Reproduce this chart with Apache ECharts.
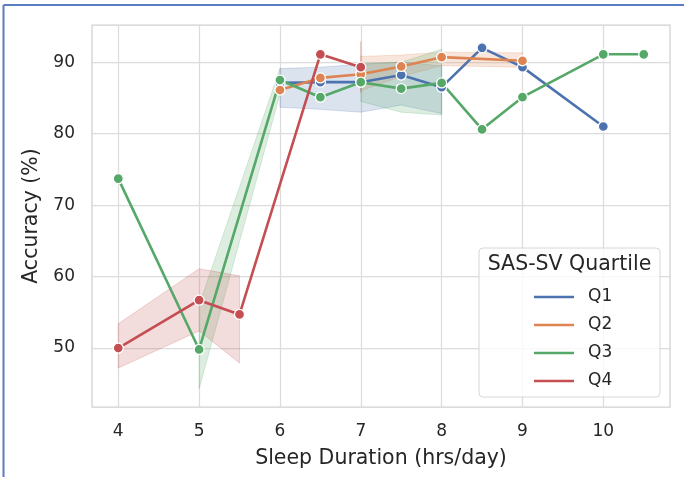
<!DOCTYPE html>
<html>
<head>
<meta charset="utf-8">
<script src="https://cdn.jsdelivr.net/npm/echarts@6/dist/echarts.min.js"></script>
<style>
html,body{margin:0;padding:0;background:#fff;}
#chart{width:684px;height:477px;}
</style>
</head>
<body>
<div id="chart"></div>
<script>
// ---- data ----
const xTicks = [4, 5, 6, 7, 8, 9, 10];
const yTicks = [50, 60, 70, 80, 90];
const seriesNames = ['Q1', 'Q2', 'Q3', 'Q4'];

const q1X = [6, 6.5, 7, 7.5, 8, 8.5, 9, 10];
const q1Y = [87.1, 87.2, 87.2, 88.2, 86.5, 92.0, 89.3, 81.0];
const q2X = [6, 6.5, 7, 7.5, 8, 9];
const q2Y = [86.1, 87.8, 88.3, 89.4, 90.7, 90.2];
const q3X = [4, 5, 6, 6.5, 7, 7.5, 8, 8.5, 9, 10, 10.5];
const q3Y = [73.7, 49.8, 87.5, 85.1, 87.2, 86.3, 87.1, 80.6, 85.1, 91.1, 91.1];
const q4X = [4, 5, 5.5, 6.5, 7];
const q4Y = [50.0, 56.7, 54.7, 91.1, 89.3];

// confidence bands (segments)
const q1BandX = [6, 6.5, 7, 7.5, 8];
const q1BandLo = [83.7, 83.4, 83.0, 84.0, 82.8];
const q1BandHi = [89.1, 89.3, 89.7, 90.0, 89.5];
const q2BandX = [7, 7.5, 8, 9];
const q2BandLo = [86.0, 88.0, 89.5, 89.3];
const q2BandHi = [90.8, 91.0, 91.4, 91.3];
const q3BandAX = [5, 6];
const q3BandALo = [44.3, 85.5];
const q3BandAHi = [56.0, 89.1];
const q3BandBX = [7, 7.5, 8];
const q3BandBLo = [84.5, 83.0, 82.6];
const q3BandBHi = [89.8, 90.0, 91.8];
const q4BandAX = [4, 5, 5.5];
const q4BandALo = [47.2, 52.4, 47.9];
const q4BandAHi = [53.4, 61.1, 60.1];
const q4BandBX = [7];
const q4BandBLo = [85.7];
const q4BandBHi = [92.9];

const colors = ['#4c72b0', '#dd8452', '#55a868', '#c44e52'];
const fontFamily = 'DejaVu Sans';
const textColor = '#262626';

function rgba(hex, a) {
  const n = parseInt(hex.slice(1), 16);
  return 'rgba(' + ((n >> 16) & 255) + ',' + ((n >> 8) & 255) + ',' + (n & 255) + ',' + a + ')';
}
function zip(xs, ys) { return xs.map((x, i) => [x, ys[i]]); }

function bandSeries(xs, lo, hi, color) {
  const data = xs.map((x, i) => [x, lo[i], hi[i]]);
  return {
    type: 'custom',
    z: 1,
    silent: true,
    data: data,
    encode: { x: 0, y: [1, 2] },
    renderItem: function (params, api) {
      if (params.dataIndex !== 0) return null;
      const pts = [];
      for (let i = 0; i < data.length; i++) pts.push(api.coord([data[i][0], data[i][2]]));
      for (let i = data.length - 1; i >= 0; i--) pts.push(api.coord([data[i][0], data[i][1]]));
      return {
        type: 'polygon',
        shape: { points: pts },
        style: { fill: rgba(color, 0.2), stroke: rgba(color, 0.22), lineWidth: 1 }
      };
    }
  };
}

function lineSeries(name, xs, ys, color) {
  return {
    name: name,
    type: 'line',
    z: 3,
    data: zip(xs, ys),
    symbol: 'circle',
    symbolSize: 10,
    showSymbol: true,
    lineStyle: { color: color, width: 2.6 },
    itemStyle: { color: color, borderColor: '#ffffff', borderWidth: 1.3 },
    emphasis: { disabled: true },
    animation: false
  };
}

const chart = echarts.init(document.getElementById('chart'), null, { renderer: 'canvas' });
chart.setOption({
  animation: false,
  backgroundColor: '#ffffff',
  grid: { left: 92, right: 14, top: 25, bottom: 70, show: true, borderColor: '#d0d0d0', borderWidth: 1.25, backgroundColor: 'transparent' },
  xAxis: {
    type: 'value', min: 3.675, max: 10.825,
    name: 'Sleep Duration (hrs/day)', nameLocation: 'middle', nameGap: 41,
    nameTextStyle: { fontFamily: fontFamily, fontSize: 20.5, color: textColor },
    axisLine: { show: false },
    axisTick: { show: false, customValues: xTicks },
    axisLabel: { customValues: xTicks, fontFamily: fontFamily, fontSize: 17, color: textColor, margin: 16 },
    splitLine: { show: true, lineStyle: { color: '#dcdcdc', width: 1.25 } }
  },
  yAxis: {
    type: 'value', min: 41.75, max: 95.2,
    name: 'Accuracy (%)', nameLocation: 'middle', nameGap: 46, nameRotate: 90,
    nameTextStyle: { fontFamily: fontFamily, fontSize: 20.5, color: textColor },
    axisLine: { show: false },
    axisTick: { show: false, customValues: yTicks },
    axisLabel: { customValues: yTicks, fontFamily: fontFamily, fontSize: 17, color: textColor, margin: 17 },
    splitLine: { show: true, lineStyle: { color: '#dcdcdc', width: 1.25 } }
  },
  legend: {
    orient: 'vertical', left: 529, top: 282, z: 60,
    data: seriesNames.map((n, i) => ({ name: n, itemStyle: { color: colors[i], borderWidth: 0 } })),
    icon: 'rect', itemWidth: 40, itemHeight: 2.5, itemGap: 8,
    itemStyle: { borderWidth: 0 },
    selectedMode: false,
    textStyle: { fontFamily: fontFamily, fontSize: 17, color: textColor, lineHeight: 20, padding: [0, 0, 0, 9] }
  },
  graphic: [
    { type: 'rect', z: 50, silent: true, shape: { x: 479, y: 248, width: 181, height: 149, r: 4 },
      style: { fill: 'rgba(255,255,255,0.8)', stroke: '#d6d6d6', lineWidth: 1 } },
    { type: 'text', z: 55, silent: true, x: 569.5, y: 265,
      style: { text: 'SAS-SV Quartile', fontFamily: fontFamily, fontSize: 20.5, fill: textColor, align: 'center', verticalAlign: 'middle' } },
    { type: 'line', z: 70, silent: true, shape: { x1: 3.5, y1: 5, x2: 684, y2: 5 }, style: { stroke: '#5a7cc0', lineWidth: 2 } },
    { type: 'line', z: 70, silent: true, shape: { x1: 3.5, y1: 5, x2: 3.5, y2: 477 }, style: { stroke: '#5a7cc0', lineWidth: 2 } }
  ],
  series: [
    bandSeries(q1BandX, q1BandLo, q1BandHi, colors[0]),
    bandSeries(q2BandX, q2BandLo, q2BandHi, colors[1]),
    bandSeries(q3BandAX, q3BandALo, q3BandAHi, colors[2]),
    bandSeries(q3BandBX, q3BandBLo, q3BandBHi, colors[2]),
    bandSeries(q4BandAX, q4BandALo, q4BandAHi, colors[3]),
    bandSeries(q4BandBX, q4BandBLo, q4BandBHi, colors[3]),
    lineSeries('Q1', q1X, q1Y, colors[0]),
    lineSeries('Q2', q2X, q2Y, colors[1]),
    lineSeries('Q3', q3X, q3Y, colors[2]),
    lineSeries('Q4', q4X, q4Y, colors[3])
  ]
});
</script>
</body>
</html>
